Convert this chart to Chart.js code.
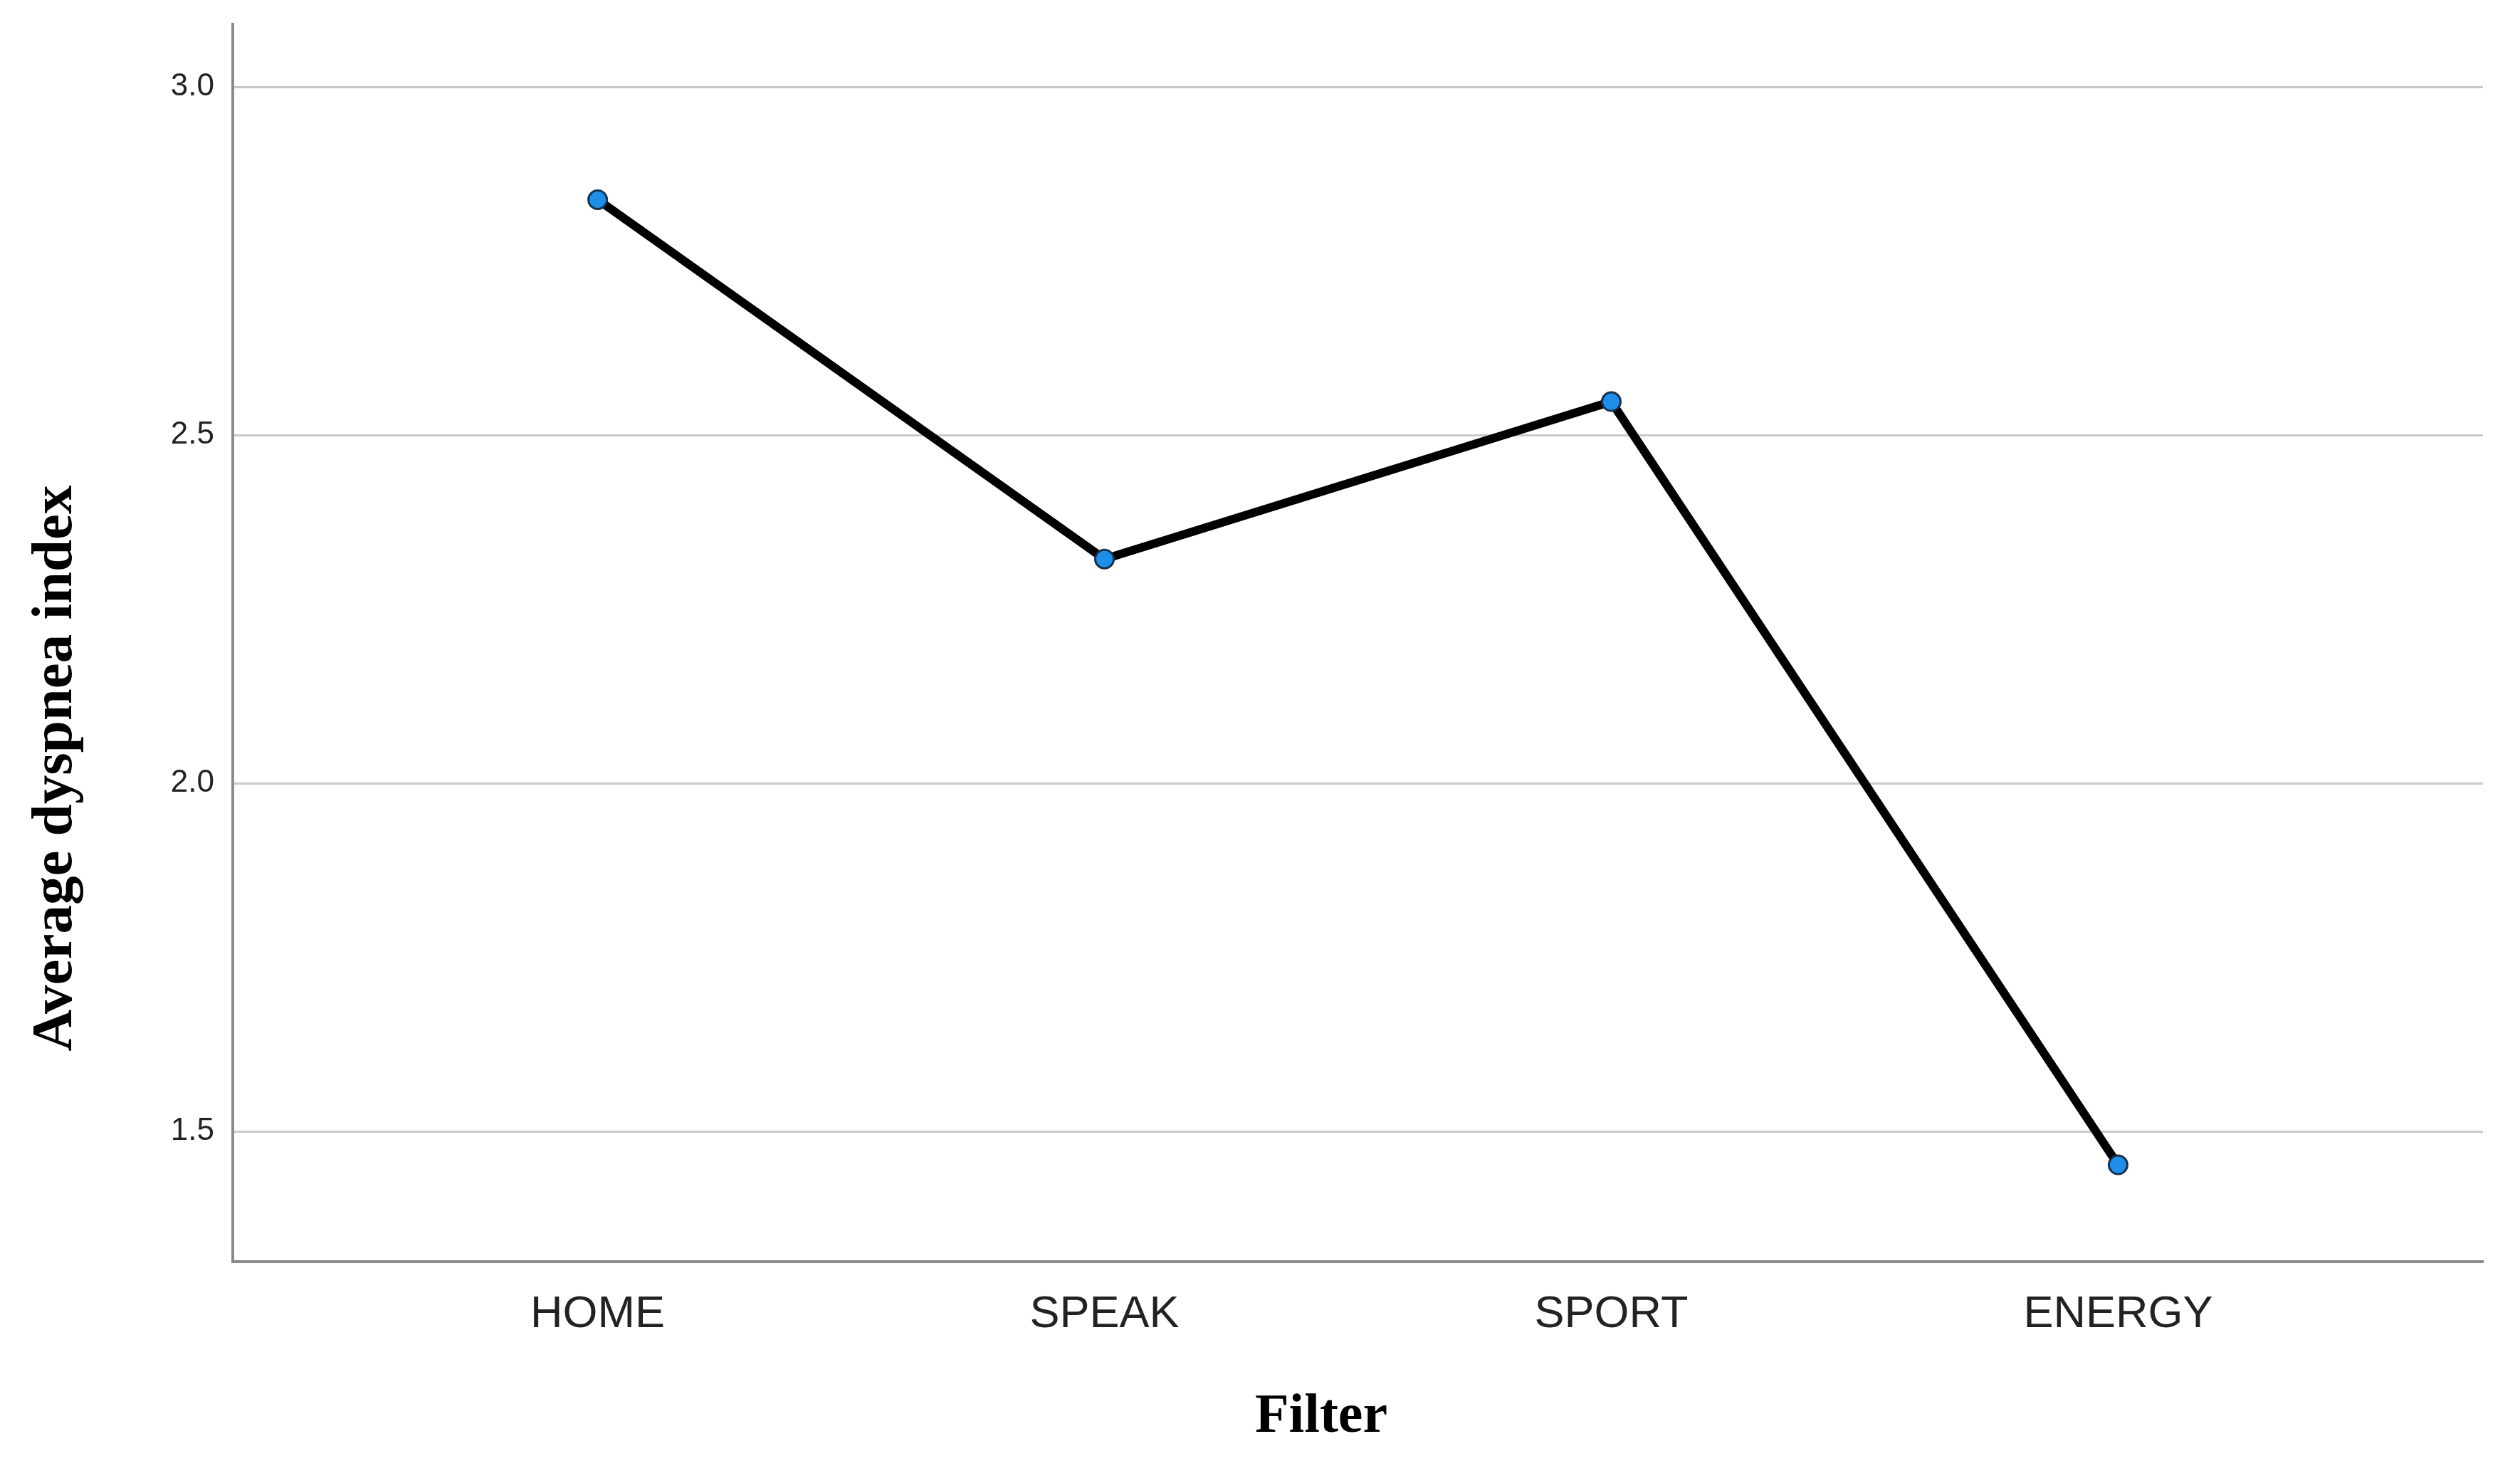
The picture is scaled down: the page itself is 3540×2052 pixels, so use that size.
<!DOCTYPE html>
<html>
<head>
<meta charset="utf-8">
<script src="https://cdn.jsdelivr.net/npm/chart.js@4/dist/chart.umd.min.js"></script>
<style>
  html, body { margin: 0; padding: 0; background: #ffffff; }
  #wrap { width: 3540px; height: 2052px; position: relative; }
</style>
</head>
<body>
<div id="wrap"><canvas id="c" width="3540" height="2052"></canvas></div>
<script>
// ---- Data ----
const categories = ["HOME", "SPEAK", "SPORT", "ENERGY"];
const dyspneaValues = [2.838, 2.322, 2.548, 1.452];
const yTickValues = [1.5, 2.0, 2.5, 3.0];
const xAxisTitle = "Filter";
const yAxisTitle = "Average dyspnea index";

const points = dyspneaValues.map((v, i) => ({ x: i, y: v }));

const axisTitles = {
  id: 'axisTitles',
  afterDraw(chart) {
    const ctx = chart.ctx;
    ctx.save();
    ctx.fillStyle = '#000';
    ctx.textAlign = 'center';
    ctx.textBaseline = 'middle';
    ctx.font = 'bold 78px "Liberation Serif", "Times New Roman", serif';
    ctx.fillText(xAxisTitle, 1856, 1991);
    ctx.font = 'bold 81px "Liberation Serif", "Times New Roman", serif';
    ctx.translate(79, 1079);
    ctx.rotate(-Math.PI / 2);
    ctx.fillText(yAxisTitle, 0, 0);
    ctx.restore();
  }
};

new Chart(document.getElementById('c'), {
  type: 'line',
  data: {
    datasets: [{
      data: points,
      borderColor: '#000000',
      borderWidth: 12,
      tension: 0,
      pointRadius: 13,
      pointHoverRadius: 13,
      pointBorderWidth: 3,
      pointBackgroundColor: '#1e8fe8',
      pointBorderColor: '#15304a',
      fill: false
    }]
  },
  options: {
    responsive: false,
    animation: false,
    layout: { padding: { top: 34, right: 52, left: 0, bottom: 0 } },
    plugins: { legend: { display: false }, tooltip: { enabled: false } },
    scales: {
      x: {
        type: 'linear',
        min: -0.72,
        max: 3.72,
        afterFit(scale) {
          scale.height = 280;
          scale.paddingLeft = 0; scale.paddingRight = 0;
        },
        afterBuildTicks(scale) { scale.ticks = categories.map((_, i) => ({ value: i })); },
        grid: { display: false, drawTicks: false },
        border: { display: true, color: '#8a8a8a', width: 4 },
        ticks: {
          padding: 37,
          autoSkip: false,
          maxRotation: 0,
          color: '#222222',
          font: { family: '"Liberation Sans", Arial, sans-serif', size: 63 },
          callback: (v) => categories[v]
        }
      },
      y: {
        min: 1.313,
        max: 3.09,
        afterFit(scale) {
          scale.width = 327;
          scale.paddingTop = 0; scale.paddingBottom = 0;
        },
        afterBuildTicks(scale) { scale.ticks = yTickValues.map(v => ({ value: v })); },
        grid: { color: '#c9c9c9', lineWidth: 3, drawTicks: false },
        border: { display: true, color: '#8a8a8a', width: 4 },
        ticks: {
          padding: 26,
          color: '#222222',
          font: { family: '"Liberation Sans", Arial, sans-serif', size: 44 },
          callback: (v) => Number(v).toFixed(1)
        }
      }
    }
  },
  plugins: [axisTitles]
});
</script>
</body>
</html>
